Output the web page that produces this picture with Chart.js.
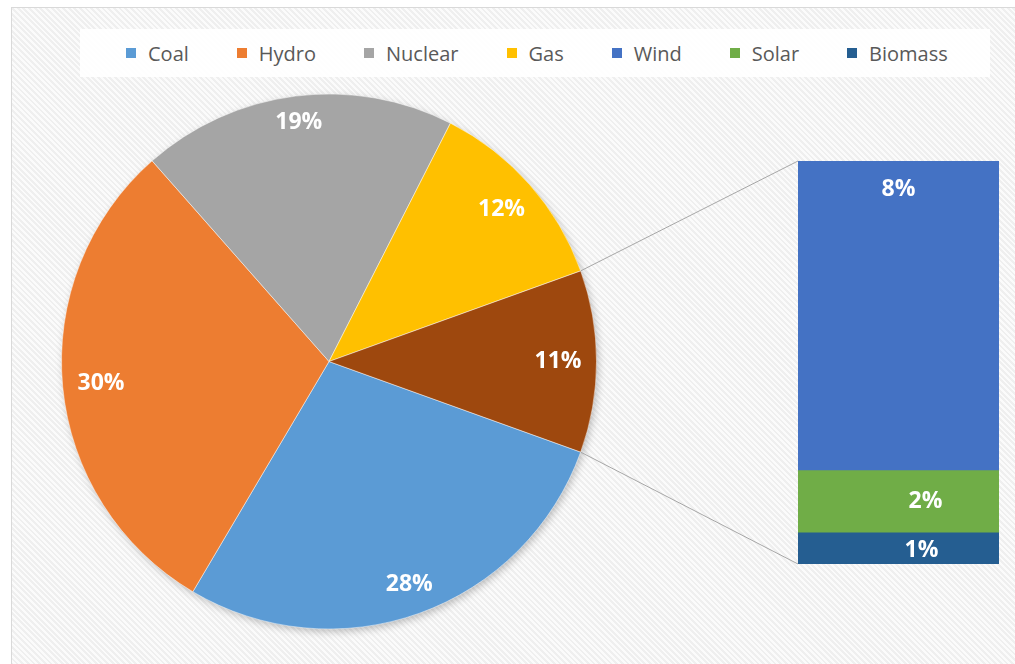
<!DOCTYPE html>
<html>
<head>
<meta charset="utf-8">
<title>Energy mix</title>
<script src="https://cdn.jsdelivr.net/npm/chart.js"></script>
<style>
    html, body { margin: 0; padding: 0; background: #fff; overflow: hidden; }
    #frame {
        position: absolute; left: 11px; top: 7px; width: 1052px; height: 700px;
        border: 1px solid #d9d9d9;
        background: repeating-linear-gradient(45deg, #fbfbfb 0px, #fbfbfb 2px, #efefef 2px, #efefef 4px);
    }
    #legend {
        position: absolute; left: 68px; top: 21px; width: 864px; height: 48px; padding-left: 46px;
        background: rgba(255,255,255,0.9);
        display: flex; align-items: center; gap: 48px;
        font-family: "Open Sans", "DejaVu Sans", sans-serif; font-size: 20px; color: #595959;
    }
    #legend .item { display: flex; align-items: center; white-space: nowrap; }
    #legend .swatch { width: 10px; height: 10px; margin-right: 12px; }
    #pieBox { position: absolute; left: 0; top: 0; width: 1052px; height: 680px; }
    #barBox { position: absolute; left: 786px; top: 153px; width: 201px; height: 403px; }
</style>
</head>
<body>
<div id="frame">
    <div id="legend"></div>
    <div id="pieBox"><canvas id="pie"></canvas></div>
    <div id="barBox"><canvas id="bar"></canvas></div>
</div>
<script>
// legend entries (pie slices + the split-out bar pieces)
const categories = ['Coal', 'Hydro', 'Nuclear', 'Gas', 'Wind', 'Solar', 'Biomass'];
const categoryColors = ['#5B9BD5', '#ED7D31', '#A5A5A5', '#FFC000', '#4472C4', '#70AD47', '#255E91'];

// main pie, last slice is the group that is broken out into the bar
const pieLabels = ['Coal', 'Hydro', 'Nuclear', 'Gas', 'Other'];
const pieValues = [28, 30, 19, 12, 11];
const pieColors = ['#5B9BD5', '#ED7D31', '#A5A5A5', '#FFC000', '#9E480E'];

// stacked bar, bottom to top
const barLabels = ['Biomass', 'Solar', 'Wind'];
const barValues = [0.85, 1.7, 8.45];
const barColors = ['#255E91', '#70AD47', '#4472C4'];

const FONT = '"Open Sans", "DejaVu Sans", sans-serif';
const pieTotal = pieValues.reduce((a, b) => a + b, 0);
const otherShare = pieValues[pieValues.length - 1] / pieTotal;
const barTotal = barValues.reduce((a, b) => a + b, 0);

let pieChart = null;
let barChart = null;

function buildLegend() {
    const box = document.getElementById('legend');
    box.innerHTML = '';
    categories.forEach((name, i) => {
        const item = document.createElement('div');
        item.className = 'item';
        item.innerHTML = `<span class="swatch" style="background:${categoryColors[i]}"></span><span>${name}</span>`;
        box.appendChild(item);
    });
}

// soft shadow under the pie
const pieShadowPlugin = {
    id: 'pieShadow',
    beforeDatasetsDraw(chart) {
        const arc = chart.getDatasetMeta(0).data[0];
        if (!arc) return;
        const ctx = chart.ctx;
        ctx.save();
        ctx.shadowColor = 'rgba(0,0,0,0.28)';
        ctx.shadowBlur = 9;
        ctx.shadowOffsetX = 2;
        ctx.shadowOffsetY = 3;
        ctx.fillStyle = '#ffffff';
        ctx.beginPath();
        ctx.arc(arc.x, arc.y, arc.outerRadius - 1, 0, Math.PI * 2);
        ctx.fill();
        ctx.restore();
    }
};

// percentage labels, pushed out until the text box touches the inner margin
const pieLabelPlugin = {
    id: 'pieLabels',
    afterDatasetsDraw(chart) {
        const ctx = chart.ctx;
        ctx.save();
        ctx.font = 'bold 23px ' + FONT;
        ctx.fillStyle = '#ffffff';
        ctx.textAlign = 'center';
        ctx.textBaseline = 'middle';
        chart.getDatasetMeta(0).data.forEach((arc, i) => {
            const text = Math.round(pieValues[i] / pieTotal * 100) + '%';
            const hw = ctx.measureText(text).width / 2;
            const hh = 8;
            const mid = (arc.startAngle + arc.endAngle) / 2;
            const cx = Math.cos(mid), cy = Math.sin(mid);
            const limit = arc.outerRadius - 15;
            let d = 0;
            while (d < limit) {
                const fx = Math.abs(cx * d) + hw;
                const fy = Math.abs(cy * d) + hh;
                if (Math.sqrt(fx * fx + fy * fy) >= limit) break;
                d += 1;
            }
            ctx.fillText(text, arc.x + cx * d, arc.y + cy * d);
        });
        ctx.restore();
    }
};

// lines joining the broken-out slice to the bar
const connectorPlugin = {
    id: 'connector',
    afterDraw(chart) {
        if (!barChart) return;
        const arc = chart.getDatasetMeta(0).data[pieValues.length - 1];
        const pieBox = document.getElementById('pieBox');
        const barBox = document.getElementById('barBox');
        const dx = barBox.offsetLeft - pieBox.offsetLeft;
        const dy = barBox.offsetTop - pieBox.offsetTop;
        const topBar = barChart.getDatasetMeta(barValues.length - 1).data[0];
        const bottomBar = barChart.getDatasetMeta(0).data[0];
        const left = dx + topBar.x - topBar.width / 2;
        const ctx = chart.ctx;
        ctx.save();
        ctx.strokeStyle = '#a6a6a6';
        ctx.lineWidth = 1;
        ctx.beginPath();
        ctx.moveTo(arc.x + Math.cos(arc.startAngle) * arc.outerRadius, arc.y + Math.sin(arc.startAngle) * arc.outerRadius);
        ctx.lineTo(left, dy + topBar.y);
        ctx.moveTo(arc.x + Math.cos(arc.endAngle) * arc.outerRadius, arc.y + Math.sin(arc.endAngle) * arc.outerRadius);
        ctx.lineTo(left, dy + bottomBar.base);
        ctx.stroke();
        ctx.restore();
    }
};

// labels in the stacked bar
const barLabelPlugin = {
    id: 'barLabels',
    afterDatasetsDraw(chart) {
        const ctx = chart.ctx;
        ctx.save();
        ctx.font = 'bold 23px ' + FONT;
        ctx.fillStyle = '#ffffff';
        ctx.textAlign = 'center';
        ctx.textBaseline = 'middle';
        chart.data.datasets.forEach((ds, i) => {
            const bar = chart.getDatasetMeta(i).data[0];
            const pos = ds.labelPos;
            const y = pos.anchor === 'top' ? bar.y + pos.dy : (bar.y + bar.base) / 2 + pos.dy;
            ctx.fillText(Math.round(ds.data[0]) + '%', bar.x + pos.dx, y);
        });
        ctx.restore();
    }
};

const labelPositions = [
    { anchor: 'center', dx: 23, dy: 2 },
    { anchor: 'center', dx: 27, dy: 0 },
    { anchor: 'top', dx: 0, dy: 28 }
];

buildLegend();

pieChart = new Chart(document.getElementById('pie'), {
    type: 'pie',
    data: {
        labels: pieLabels,
        datasets: [{
            data: pieValues,
            backgroundColor: pieColors,
            borderColor: 'rgba(255,255,255,0.45)',
            borderWidth: 1,
            hoverOffset: 0
        }]
    },
    options: {
        responsive: true,
        maintainAspectRatio: false,
        animation: false,
        rotation: 90 + otherShare * 180,
        layout: { padding: { left: 49, right: 467, top: 85, bottom: 58 } },
        plugins: {
            tooltip: { enabled: false },
            legend: { display: false }
        }
    },
    plugins: [pieShadowPlugin, pieLabelPlugin, connectorPlugin]
});

barChart = new Chart(document.getElementById('bar'), {
    type: 'bar',
    data: {
        labels: ['Other'],
        datasets: barLabels.map((name, i) => ({
            label: name,
            data: [barValues[i]],
            backgroundColor: barColors[i],
            borderWidth: 0,
            barPercentage: 1,
            categoryPercentage: 1,
            labelPos: labelPositions[i]
        }))
    },
    options: {
        responsive: true,
        maintainAspectRatio: false,
        animation: false,
        layout: { padding: 0 },
        scales: {
            x: { stacked: true, display: false },
            y: { stacked: true, display: false, min: 0, max: barTotal }
        },
        plugins: { legend: { display: false }, tooltip: { enabled: false } }
    },
    plugins: [barLabelPlugin]
});

pieChart.draw();
</script>
</body>
</html>
